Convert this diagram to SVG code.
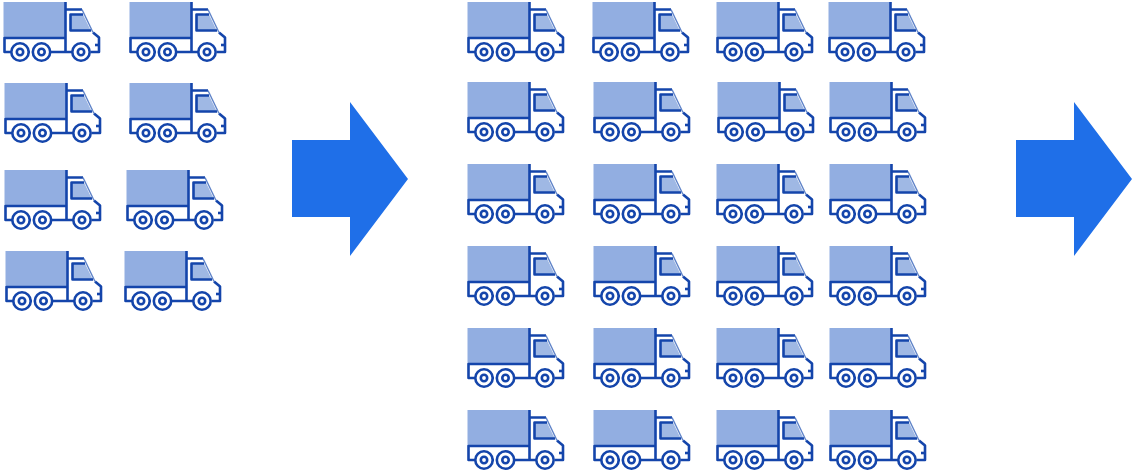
<svg xmlns="http://www.w3.org/2000/svg" width="1132" height="474" viewBox="0 0 1132 474">
<style>
.s{fill:none;stroke:#1445ab;stroke-width:2.6;stroke-linejoin:round}
.f{fill:none;stroke:#5f83c8;stroke-width:1.4}
.c{fill:#92aee1;stroke:none}
.w{fill:#9fb8e4;stroke:none}
.h{fill:#fff;stroke:#1445ab;stroke-width:2.6}
.a{fill:#1f6fe8}
</style>
<defs>
<g id="t">
<rect class="c" x="0.500" y="0" width="62" height="36"/>
<path class="s" d="M62.500 0V50M62.500 7.500H79M90 30.500L96 35.500V50H88M72 50H47M27 50H25M9 50H1.500V36H62.500"/>
<path class="s" d="M96 43H92"/>
<path class="w" d="M67 12.500H80L88 29H67Z"/>
<path class="f" d="M79 7.500L90 30.500"/>
<path class="s" d="M80 12.500H67.500V28.500H88"/>
<circle class="h" cx="17" cy="50" r="8.700"/><circle class="h" cx="17" cy="50" r="3.200"/>
<circle class="h" cx="38.500" cy="50" r="8.700"/><circle class="h" cx="38.500" cy="50" r="3.200"/>
<circle class="h" cx="78" cy="50" r="8.700"/><circle class="h" cx="78" cy="50" r="3.200"/>
</g>
</defs>
<g id="connectors"/>
<g id="fleet-small">
<use href="#t" x="3" y="2"/><use href="#t" x="129" y="2"/>
<use href="#t" x="4" y="83"/><use href="#t" x="129" y="83"/>
<use href="#t" x="4" y="170"/><use href="#t" x="126" y="170"/>
<use href="#t" x="5" y="251"/><use href="#t" x="124" y="251"/>
</g>
<g id="arrow-1"><path class="a" d="M292 140H350V102L408 179L350 256V217H292Z"/></g>
<g id="fleet-large">
<use href="#t" x="467" y="2"/><use href="#t" x="592" y="2"/><use href="#t" x="716" y="2"/><use href="#t" x="828" y="2"/>
<use href="#t" x="467" y="82"/><use href="#t" x="593" y="82"/><use href="#t" x="717" y="82"/><use href="#t" x="829" y="82"/>
<use href="#t" x="467" y="164"/><use href="#t" x="593" y="164"/><use href="#t" x="716" y="164"/><use href="#t" x="829" y="164"/>
<use href="#t" x="467" y="246"/><use href="#t" x="593" y="246"/><use href="#t" x="716" y="246"/><use href="#t" x="829" y="246"/>
<use href="#t" x="467" y="328"/><use href="#t" x="593" y="328"/><use href="#t" x="716" y="328"/><use href="#t" x="829" y="328"/>
<use href="#t" x="467" y="410"/><use href="#t" x="593" y="410"/><use href="#t" x="716" y="410"/><use href="#t" x="829" y="410"/>
</g>
<g id="arrow-2"><path class="a" d="M1016 140H1074V102L1132 179L1074 256V217H1016Z"/></g>
</svg>
